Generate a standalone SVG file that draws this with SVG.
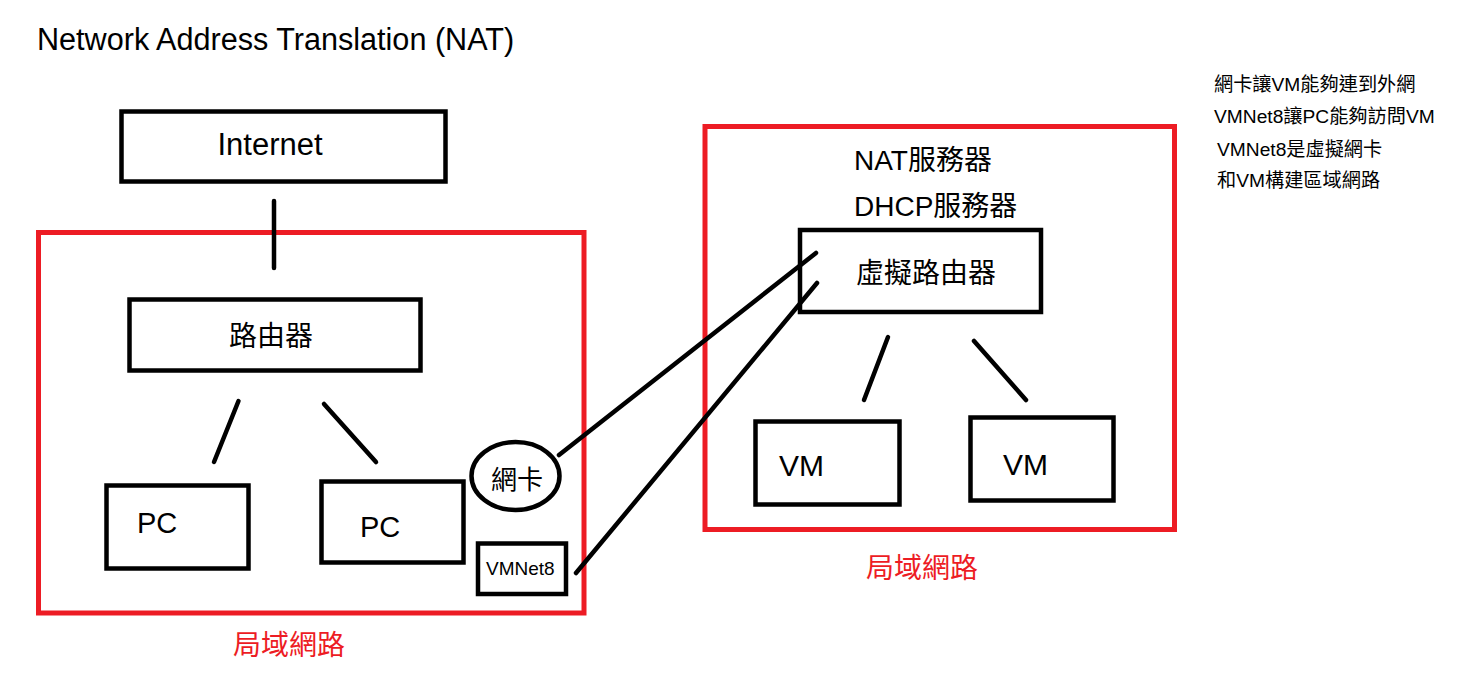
<svg xmlns="http://www.w3.org/2000/svg" width="1476" height="691" viewBox="0 0 1476 691">
<style>
  .bg { fill: #ffffff; }
  .box { fill: none; stroke: #000000; stroke-width: 4.5; }
  .area { fill: none; stroke: #ED1C24; stroke-width: 5; }
  .wire { stroke: #000000; stroke-width: 4.5; stroke-linecap: round; fill: none; }
  .t { font-family: "Liberation Sans", "Noto Sans CJK TC", sans-serif; fill: #000000; }
  .red { fill: #ED1C24; }
</style>
<rect class="bg" x="0" y="0" width="1476" height="691"/>

<text class="t" x="37" y="50" font-size="30.6">Network Address Translation (NAT)</text>

<g id="notes">
  <text class="t" x="1214" y="91" font-size="19.2">網卡讓VM能夠連到外網</text>
  <text class="t" x="1214" y="123" font-size="19.2">VMNet8讓PC能夠訪問VM</text>
  <text class="t" x="1217" y="156" font-size="19.2">VMNet8是虛擬網卡</text>
  <text class="t" x="1217" y="187" font-size="19.2">和VM構建區域網路</text>
</g>

<g id="lan1">
  <rect class="area" x="38.5" y="232.5" width="545.5" height="380.5"/>
  <text class="t red" x="233" y="655" font-size="28">局域網路</text>
</g>

<g id="lan2">
  <rect class="area" x="705" y="126.5" width="469.5" height="403"/>
  <text class="t red" x="866" y="578" font-size="28">局域網路</text>
</g>

<g id="internet">
  <rect class="box" x="121.5" y="111.5" width="324" height="70"/>
  <text class="t" x="270" y="155" font-size="31" text-anchor="middle">Internet</text>
</g>

<g id="router">
  <rect class="box" x="129.5" y="299.5" width="291" height="71"/>
  <text class="t" x="229" y="346" font-size="28">路由器</text>
</g>

<g id="pc1">
  <rect class="box" x="106.5" y="485.5" width="142" height="83"/>
  <text class="t" x="137" y="533" font-size="29">PC</text>
</g>

<g id="pc2">
  <rect class="box" x="321.5" y="481.5" width="142" height="81"/>
  <text class="t" x="360" y="537" font-size="29">PC</text>
</g>

<g id="nic">
  <ellipse class="box" cx="515.5" cy="476" rx="44" ry="34"/>
  <text class="t" x="491" y="489" font-size="26">網卡</text>
</g>

<g id="vmnet8">
  <rect class="box" x="478" y="543.5" width="88" height="50.5"/>
  <text class="t" x="486" y="575" font-size="19">VMNet8</text>
</g>

<g id="nat-labels">
  <text class="t" x="854" y="170" font-size="28">NAT服務器</text>
  <text class="t" x="854" y="216" font-size="28">DHCP服務器</text>
</g>

<g id="vrouter">
  <rect class="box" x="800" y="230" width="241" height="82"/>
  <text class="t" x="856" y="283" font-size="28">虛擬路由器</text>
</g>

<g id="vm1">
  <rect class="box" x="755.5" y="421.5" width="144" height="83"/>
  <text class="t" x="779" y="476" font-size="30">VM</text>
</g>

<g id="vm2">
  <rect class="box" x="970.5" y="417.5" width="143" height="83"/>
  <text class="t" x="1003" y="475" font-size="30">VM</text>
</g>

<g id="connectors">
  <line class="wire" x1="274" y1="201" x2="274" y2="268"/>
  <line class="wire" x1="238.5" y1="401" x2="214" y2="462"/>
  <line class="wire" x1="324" y1="404" x2="376" y2="462"/>
  <line class="wire" x1="559" y1="455" x2="816" y2="253"/>
  <line class="wire" x1="576" y1="573" x2="817" y2="283"/>
  <line class="wire" x1="888" y1="337" x2="864" y2="400"/>
  <line class="wire" x1="974" y1="341" x2="1026" y2="400"/>
</g>
</svg>
